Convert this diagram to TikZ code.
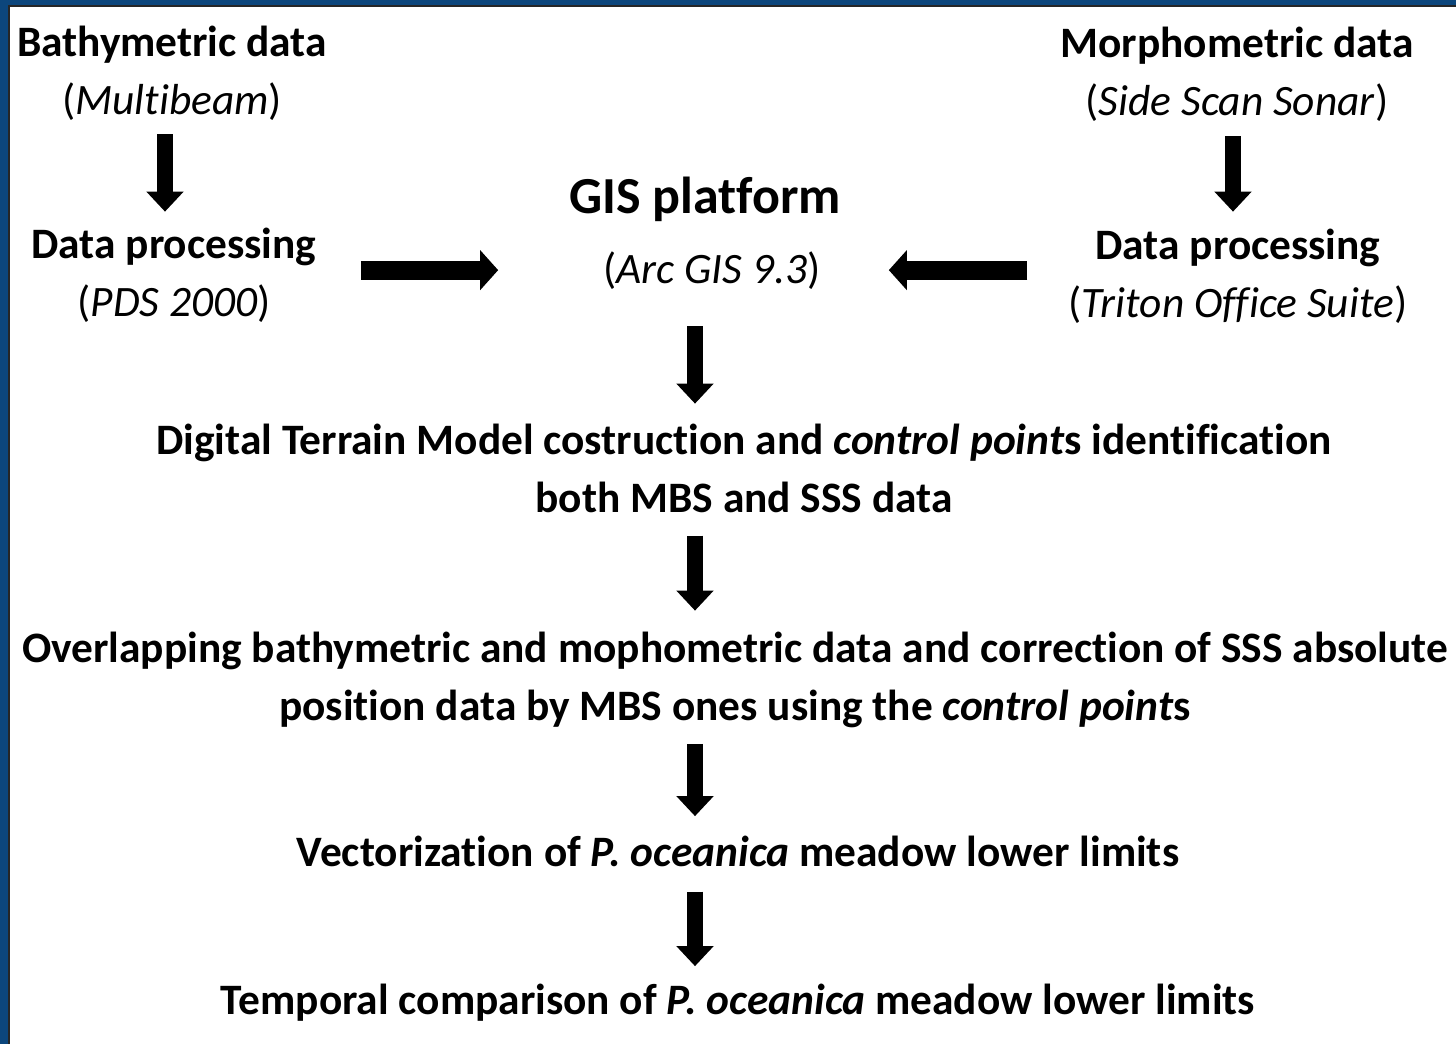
\documentclass[tikz,border=0pt]{standalone}
\usepackage{fontspec}
\setmainfont{Carlito}[Ligatures=NoCommon]
\usetikzlibrary{arrows.meta}

\definecolor{frameblue}{RGB}{12,70,124}

\tikzset{
  stage/.style={font=\bfseries\fontsize{21.7}{28.75}\selectfont, align=center, inner sep=0pt, anchor=base},
  source/.style={font=\fontsize{21.7}{28.75}\selectfont, align=center, inner sep=0pt, anchor=base},
  blk/.style={line width=8pt, -{Triangle[width=18pt,length=10pt]}},
  hblk/.style={line width=9.5pt, -{Triangle[width=19.5pt,length=9pt]}},
}

\begin{document}
\begin{tikzpicture}[x=0.5pt,y=-0.5pt]
\useasboundingbox (0,0) rectangle (1456,1044);
\fill[white] (0,0) rectangle (1456,1044);
% blue frame on the left and top
\fill[frameblue] (0,0) rectangle (8,1044);
\fill[frameblue] (0,0) rectangle (1456,5);
\draw[black!85,line width=1pt] (9,1044) -- (9,6) -- (1456,6);

% input columns (base = last line)
\node[stage] (bathy) at (172,114) {Bathymetric data\\\mdseries(\textit{Multibeam})};
\node[stage] (proc1) at (174,316) {Data processing\\\mdseries(\textit{PDS 2000})};
\node[stage] (morph) at (1237,115) {Morphometric data\\\mdseries(\textit{Side Scan Sonar})};
\node[stage] (proc2) at (1238,317) {Data processing\\\mdseries(\textit{Triton Office Suite})};

% GIS
\node[stage,font=\bfseries\fontsize{26}{28}\selectfont] (gis) at (705,213) {GIS platform};
\node[source] (arcgis) at (712,283) {(\textit{Arc GIS 9.3})};

% processing chain
\node[stage] (dtm) at (744,512) {Digital Terrain Model costruction and \textit{control point}s identification\\both MBS and SSS data};
\node[stage] (overlap) at (735,720) {Overlapping bathymetric and mophometric data and correction of SSS absolute\\position data by MBS ones using the \textit{control point}s};
\node[stage] (vect) at (738,866) {Vectorization of \textit{P. oceanica} meadow lower limits};
\node[stage] (temp) at (738,1014) {Temporal comparison of \textit{P. oceanica} meadow lower limits};

\coordinate (spine) at (695,0);

\draw[blk,shorten <=7pt,shorten >=8pt] ([xshift=-3.5pt]bathy.south) -- ([xshift=-4.5pt]proc1.north);
\draw[blk,shorten <=7.5pt,shorten >=8.5pt] ([xshift=-2pt]morph.south) -- ([xshift=-2.5pt]proc2.north);
\draw[hblk,shorten <=22pt,shorten >=52.5pt] (proc1.east |- arcgis.center) -- (arcgis.west);
\draw[hblk,shorten <=20.5pt,shorten >=34pt] (proc2.west |- arcgis.center) -- (arcgis.east);
\draw[blk,shorten <=18.5pt,shorten >=10pt] (arcgis.south -| spine) -- (dtm.north -| spine);
\draw[blk,shorten <=11.5pt,shorten >=10.5pt] (dtm.south -| spine) -- (overlap.north -| spine);
\draw[blk,shorten <=8pt,shorten >=9.5pt] (overlap.south -| spine) -- (vect.north -| spine);
\draw[blk,shorten <=12.5pt,shorten >=8.5pt] (vect.south -| spine) -- (temp.north -| spine);
\end{tikzpicture}
\end{document}
